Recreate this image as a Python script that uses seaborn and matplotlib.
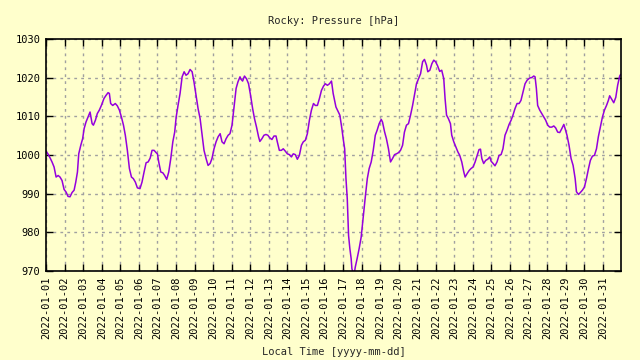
import numpy as np
import pandas as pd
import matplotlib
matplotlib.use("Agg")
import matplotlib.pyplot as plt
import matplotlib.dates as mdates
import seaborn as sns

# days after 2022-01-01 00:00 and pressure readings [hPa]
days = [
    0.00, 0.11, 0.22, 0.32, 0.43, 0.54, 0.65, 0.75, 0.86, 0.97, 1.08, 1.18, 1.29, 1.40,
    1.51, 1.60, 1.69, 1.76, 1.87, 1.97, 2.05, 2.15, 2.26, 2.37, 2.48, 2.55, 2.66, 2.76,
    2.87, 2.98, 3.12, 3.23, 3.34, 3.41, 3.48, 3.59, 3.73, 3.84, 3.95, 4.06, 4.17, 4.27,
    4.38, 4.49, 4.60, 4.70, 4.81, 4.92, 5.06,
    5.17, 5.28, 5.39, 5.50, 5.61, 5.71, 5.82, 5.93, 6.00, 6.07, 6.18, 6.29, 6.39, 6.50,
    6.61, 6.72, 6.83, 6.93, 7.01, 7.11, 7.22, 7.33, 7.44, 7.54, 7.65, 7.76, 7.87, 7.97,
    8.08, 8.19, 8.30, 8.41, 8.51, 8.62, 8.73, 8.84, 8.94, 9.05, 9.16, 9.27, 9.38, 9.48,
    9.59, 9.70, 9.81, 9.91, 10.02, 10.13, 10.24, 10.34, 10.45,
    10.48, 10.59, 10.69, 10.80, 10.91, 11.02, 11.13, 11.23, 11.34, 11.45, 11.52, 11.63,
    11.74, 11.85, 11.95, 12.06, 12.17, 12.28, 12.39, 12.46, 12.57, 12.68, 12.78, 12.89,
    13.00, 13.11, 13.22, 13.32, 13.43, 13.54, 13.65, 13.76, 13.86, 13.97, 14.08, 14.19,
    14.30, 14.41, 14.51, 14.62, 14.73, 14.84, 14.95, 15.05, 15.16, 15.27, 15.38,
    15.47, 15.55, 15.62, 15.73, 15.83, 15.94, 16.01, 16.09, 16.16, 16.23, 16.30, 16.37,
    16.44, 16.48, 16.59, 16.66, 16.76, 16.87, 16.98, 17.09, 17.20, 17.31, 17.41, 17.52,
    17.63, 17.74, 17.84, 17.95, 18.06, 18.13, 18.24, 18.34, 18.45, 18.56, 18.67, 18.78,
    18.88, 18.99, 19.10, 19.21, 19.31, 19.42, 19.53, 19.64, 19.75, 19.85, 19.96, 20.07,
    20.18, 20.29, 20.39, 20.50, 20.57, 20.68, 20.79,
    20.89, 20.99, 21.10, 21.21, 21.32, 21.43, 21.50, 21.58, 21.68, 21.79, 21.86, 21.97,
    22.08, 22.19, 22.29, 22.40, 22.51, 22.58, 22.69, 22.80, 22.90, 23.01, 23.12, 23.23,
    23.33, 23.41, 23.48, 23.58, 23.69, 23.80, 23.91, 23.98, 24.09, 24.19, 24.30, 24.41,
    24.52, 24.62, 24.73, 24.84, 24.95, 25.06, 25.16, 25.27, 25.38, 25.49, 25.59, 25.70,
    25.81, 25.92,
    26.06, 26.17, 26.28, 26.35, 26.42, 26.49, 26.60, 26.71, 26.82, 26.92, 27.03, 27.14,
    27.25, 27.36, 27.46, 27.57, 27.68, 27.79, 27.90, 27.97, 28.07, 28.18, 28.29, 28.40,
    28.51, 28.58, 28.69, 28.79, 28.90, 29.01, 29.12, 29.23, 29.33, 29.44, 29.55, 29.66,
    29.76, 29.87, 29.98, 30.09, 30.20, 30.30, 30.37, 30.48, 30.59, 30.70, 30.80, 30.91,
    30.96,
]
pressure = [
    1001.0, 1000.2, 999.2, 998.2, 996.9, 994.3, 994.7, 994.3, 993.4, 991.1, 990.4, 989.3,
    989.2, 990.3, 990.9, 993.0, 995.6, 1000.3, 1002.5, 1004.2, 1006.8, 1008.5, 1009.8,
    1011.1, 1008.1, 1007.7, 1009.0, 1010.7, 1011.6, 1012.8, 1014.6, 1015.4, 1016.1,
    1015.9, 1013.3, 1012.8, 1013.3, 1012.7, 1011.6, 1009.8, 1007.7, 1005.1, 1001.2,
    996.5, 994.3, 993.9, 993.0, 991.5, 991.3,
    993.0, 995.6, 998.0, 998.2, 999.2, 1001.2, 1001.2, 1000.6, 1000.3, 998.2, 995.6,
    995.4, 994.7, 993.7, 995.6, 999.1, 1003.4, 1005.9, 1009.8, 1012.8, 1015.9, 1020.2,
    1021.5, 1020.6, 1021.0, 1022.1, 1021.5, 1018.9, 1015.4, 1012.0, 1009.4, 1005.1,
    1001.2, 999.1, 997.3, 997.8, 999.1, 1001.6, 1003.4, 1004.7, 1005.5, 1003.4, 1002.9,
    1004.2, 1005.1, 1005.5, 1007.7, 1012.4, 1017.2, 1018.9, 1020.2,
    1019.7, 1019.1, 1020.4, 1019.7, 1018.4, 1015.4, 1012.0, 1009.4, 1007.2, 1004.7,
    1003.5, 1004.2, 1005.1, 1005.3, 1005.1, 1004.4, 1004.0, 1004.9, 1004.9, 1003.4,
    1001.2, 1001.2, 1001.6, 1001.0, 1000.3, 1000.1, 999.5, 1000.3, 1000.1, 998.9,
    999.9, 1002.5, 1003.4, 1003.8, 1005.5, 1009.0, 1011.6, 1013.3, 1012.8, 1012.8,
    1014.6, 1016.7, 1017.8, 1018.4, 1018.0, 1018.4, 1019.1,
    1015.9, 1014.1, 1012.4, 1011.3, 1010.3, 1006.8, 1004.2, 1001.6, 993.9, 988.7,
    979.2, 975.8, 973.2, 970.6, 968.8, 971.0, 973.2, 975.8, 978.8, 984.0, 989.1, 993.9,
    996.5, 998.2, 1001.2, 1005.1, 1006.4, 1008.1, 1009.2, 1008.5, 1006.0, 1004.2,
    1001.6, 998.2, 999.1, 1000.1, 1000.3, 1000.6, 1001.2, 1002.5, 1005.9, 1007.7,
    1008.1, 1010.3, 1012.8, 1015.4, 1018.4, 1019.7, 1021.0, 1024.1, 1024.7, 1023.2,
    1021.5, 1021.9, 1023.6,
    1024.5, 1024.1, 1023.0, 1021.6, 1021.9, 1019.7, 1014.6, 1010.3, 1009.4, 1008.1,
    1005.1, 1003.4, 1002.1, 1000.8, 999.9, 998.2, 995.6, 994.3, 995.2, 996.0, 996.5,
    996.9, 998.2, 999.9, 1001.4, 1001.5, 999.1, 997.8, 998.6, 998.9, 999.5, 998.4,
    997.8, 997.2, 998.2, 999.9, 1000.1, 1001.6, 1005.1, 1006.4, 1007.9, 1009.0,
    1010.3, 1012.0, 1013.3, 1013.3, 1014.1, 1016.3, 1018.4, 1019.3,
    1019.9, 1020.0, 1020.4, 1020.2, 1017.2, 1012.8, 1011.6, 1010.7, 1009.8, 1009.0,
    1007.7, 1007.2, 1007.2, 1007.5, 1007.0, 1005.9, 1005.8, 1006.8, 1007.9, 1006.8,
    1005.1, 1002.5, 999.1, 997.3, 993.9, 990.5, 989.8, 990.3, 990.9, 991.7, 993.9,
    996.5, 998.6, 999.7, 999.9, 1001.6, 1004.7, 1007.2, 1009.8, 1011.6, 1012.8, 1014.1,
    1015.3, 1014.4, 1013.5, 1014.9, 1018.0, 1020.4, 1020.8,
]
y_ticks = [970, 980, 990, 1000, 1010, 1020, 1030]

start = pd.Timestamp("2022-01-01 00:00")
df = pd.DataFrame({
    "time": start + pd.to_timedelta(days, unit="D"),
    "pressure": pressure,
})

bg = "#ffffcc"
sns.set_theme(style="ticks", rc={
    "figure.facecolor": bg,
    "axes.facecolor": bg,
    "axes.edgecolor": "black",
    "axes.linewidth": 1.2,
})
plt.rcParams["font.family"] = ["DejaVu Sans Mono"]

fig, ax = plt.subplots(figsize=(6.4, 3.6), dpi=100)
fig.subplots_adjust(left=0.072, right=0.970, top=0.892, bottom=0.247)

sns.lineplot(data=df, x="time", y="pressure", ax=ax, color="#9400dd",
             linewidth=1.1, estimator=None, sort=False)

ax.set_xlim(start, start + pd.Timedelta(days=30.97))
ax.set_ylim(970, 1030)
ax.set_yticks(y_ticks)
ax.xaxis.set_major_locator(mdates.DayLocator())
ax.xaxis.set_major_formatter(mdates.DateFormatter("%Y-%m-%d"))

ax.grid(True, color="#a0a0a0", linestyle=(0, (2, 3)), linewidth=1.0)
ax.tick_params(direction="in", length=5, width=1, top=True, right=True,
               labelsize=7.5, colors="black", pad=4)
plt.setp(ax.get_xticklabels(), rotation=90)

ax.set_title("Rocky: Pressure [hPa]", fontsize=7.5, pad=11)
ax.set_xlabel("Local Time [yyyy-mm-dd]", fontsize=7.5, labelpad=6)
ax.set_ylabel("")

fig.savefig("out.png", dpi=100, facecolor=bg)
